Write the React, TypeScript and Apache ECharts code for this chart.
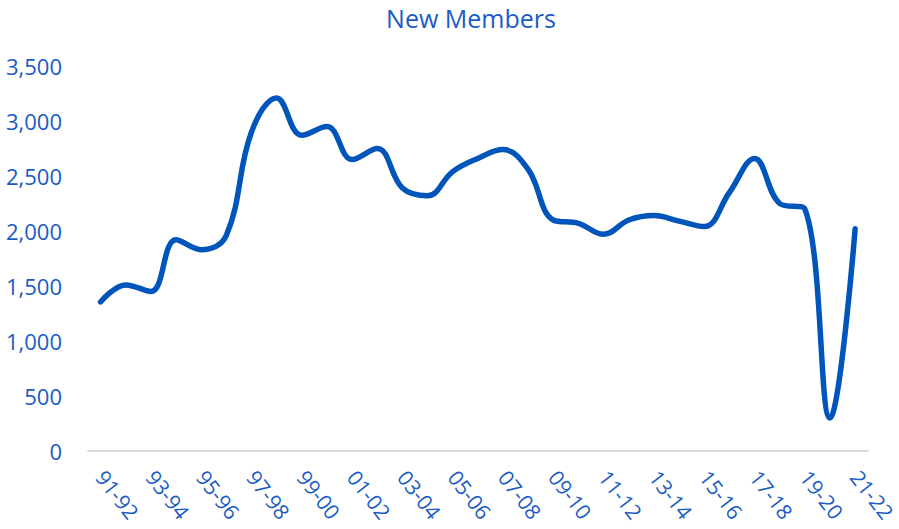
import React, { useEffect, useRef } from "react";
import * as echarts from "echarts";

const categories = [
  "91-92","92-93","93-94","94-95","95-96","96-97","97-98","98-99","99-00","00-01",
  "01-02","02-03","03-04","04-05","05-06","06-07","07-08","08-09","09-10","10-11",
  "11-12","12-13","13-14","14-15","15-16","16-17","17-18","18-19","19-20","20-21","21-22",
];
const newMembers = [
  1355, 1510, 1450, 1920, 1830, 1960, 2900, 3210, 2870, 2950,
  2650, 2750, 2390, 2320, 2540, 2660, 2740, 2560, 2100, 2070,
  1970, 2100, 2140, 2090, 2040, 2350, 2660, 2250, 2200, 300, 2020,
];
const yTicks = [0, 500, 1000, 1500, 2000, 2500, 3000, 3500];

const TEXT = "#1a5cc4";
const LINE = "#0055bb";
const FONT = "'Open Sans', 'DejaVu Sans', sans-serif";

export default function App() {
  const ref = useRef<HTMLDivElement>(null);
  useEffect(() => {
    document.body.style.margin = "0";
    const chart = echarts.init(ref.current!, undefined, { renderer: "svg" });
    chart.setOption({
      animation: false,
      title: {
        text: "New Members",
        left: 466,
        textAlign: "center",
        top: 0,
        textStyle: { color: TEXT, fontSize: 25, fontWeight: "normal", fontFamily: FONT },
      },
      grid: { left: 88, right: 31, top: 66, bottom: 78, containLabel: false },
      xAxis: {
        type: "category",
        data: categories,
        boundaryGap: true,
        axisLine: { lineStyle: { color: "#d9d9d9", width: 2 } },
        axisTick: { show: false },
        axisLabel: {
          interval: 1,
          rotate: -52,
          color: TEXT,
          fontSize: 21,
          fontFamily: FONT,
          margin: 22,
        },
      },
      yAxis: {
        type: "value",
        min: 0,
        max: yTicks[yTicks.length - 1],
        interval: 500,
        splitLine: { show: false },
        axisLine: { show: false },
        axisTick: { show: false },
        axisLabel: {
          color: TEXT,
          fontSize: 22,
          fontFamily: FONT,
          margin: 26,
          formatter: (v: number) => v.toLocaleString("en-US"),
        },
      },
      series: [
        {
          type: "line",
          data: newMembers,
          smooth: 0.4,
          symbol: "none",
          lineStyle: { color: LINE, width: 5.5, cap: "round" },
        },
      ],
    });
    return () => chart.dispose();
  }, []);
  return <div ref={ref} style={{ width: 899, height: 529 }} />;
}
